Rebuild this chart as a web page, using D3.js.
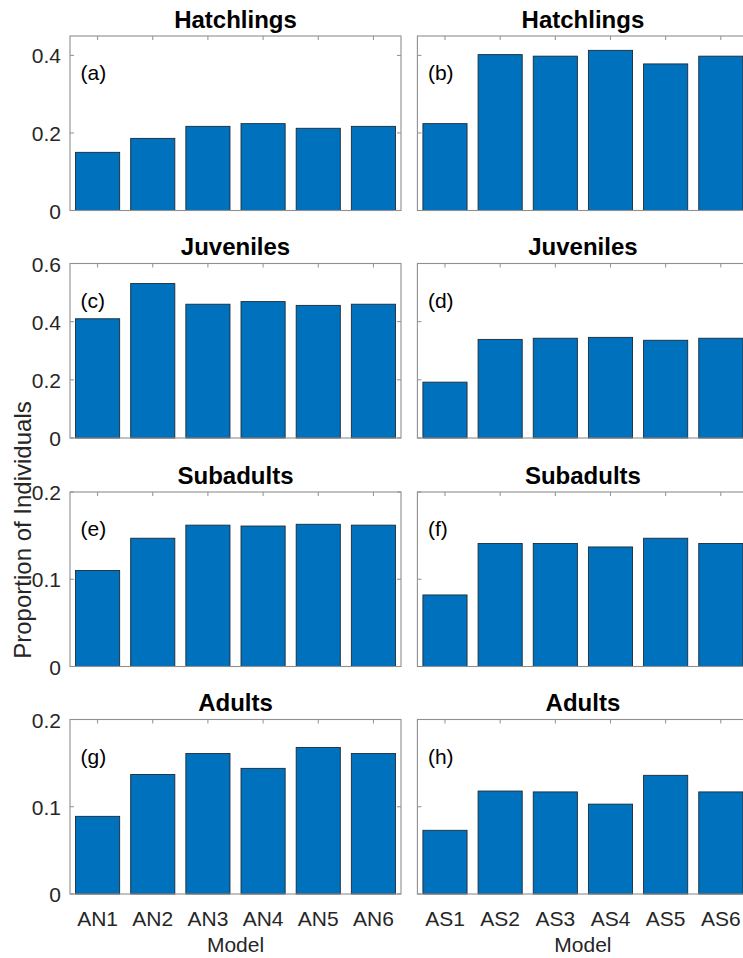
<!DOCTYPE html>
<html>
<head>
<meta charset="utf-8">
<script src="https://cdn.jsdelivr.net/npm/d3@7"></script>
<style>
  html, body { margin: 0; padding: 0; background: #fff; }
  svg { display: block; font-family: "Liberation Sans", Arial, Helvetica, sans-serif; }
</style>
</head>
<body>
<svg id="chart" width="743" height="958"></svg>
<script>
// Model names for the two columns
const modelsAN = ["AN1", "AN2", "AN3", "AN4", "AN5", "AN6"];
const modelsAS = ["AS1", "AS2", "AS3", "AS4", "AS5", "AS6"];

// Stage titles (one per row)
const stages = ["Hatchlings", "Juveniles", "Subadults", "Adults"];

// Proportion of individuals per stage and model
const hatchlingsAN = [0.150, 0.186, 0.217, 0.224, 0.212, 0.217];
const hatchlingsAS = [0.224, 0.402, 0.398, 0.413, 0.378, 0.398];
const juvenilesAN  = [0.410, 0.531, 0.460, 0.469, 0.456, 0.460];
const juvenilesAS  = [0.192, 0.339, 0.343, 0.346, 0.336, 0.343];
const subadultsAN  = [0.110, 0.147, 0.162, 0.161, 0.163, 0.162];
const subadultsAS  = [0.082, 0.141, 0.141, 0.137, 0.147, 0.141];
const adultsAN     = [0.089, 0.137, 0.161, 0.144, 0.168, 0.161];
const adultsAS     = [0.073, 0.118, 0.117, 0.103, 0.136, 0.117];

// y-axis upper limits and tick values per row
const yMax = [0.45, 0.6, 0.2, 0.2];
const yTicksHatch = [0, 0.2, 0.4];
const yTicksJuv   = [0, 0.2, 0.4, 0.6];
const yTicksSub   = [0, 0.1, 0.2];
const yTicksAdult = [0, 0.1, 0.2];

const panelLetters = ["a", "b", "c", "d", "e", "f", "g", "h"];

const rowValues = [
  [hatchlingsAN, hatchlingsAS],
  [juvenilesAN, juvenilesAS],
  [subadultsAN, subadultsAS],
  [adultsAN, adultsAS]
];
const rowTicks = [yTicksHatch, yTicksJuv, yTicksSub, yTicksAdult];

// Layout
const colLeft = [70, 417.4];
const colWidth = 331;
const rowTop = [36, 263.5, 492, 719.5];
const rowHeight = 174.5;

const barColor = "#0072BD";
const axisColor = "#8f8f8f";
const textColor = "#262626";
const tickFont = 21;
const labelFont = 24;

const svg = d3.select("#chart");

const fmt = d => d === 0 ? "0" : d3.format(".1f")(d);

rowValues.forEach((pair, r) => {
  pair.forEach((values, c) => {
    const models = c === 0 ? modelsAN : modelsAS;
    const x0 = colLeft[c], y0 = rowTop[r];
    const x = d3.scaleBand()
      .domain(models)
      .range([x0, x0 + colWidth])
      .paddingInner(0.2)
      .paddingOuter(0.1);
    const y = d3.scaleLinear()
      .domain([0, yMax[r]])
      .range([y0 + rowHeight, y0]);

    const g = svg.append("g");

    // top ticks (mirrored, inward)
    g.selectAll("line.xtop").data(models).join("line")
      .attr("x1", d => x(d) + x.bandwidth() / 2)
      .attr("x2", d => x(d) + x.bandwidth() / 2)
      .attr("y1", y0).attr("y2", y0 + 4)
      .attr("stroke", axisColor).attr("stroke-width", 1);

    // left and right y ticks, inward
    g.selectAll("line.yl").data(rowTicks[r]).join("line")
      .attr("x1", x0).attr("x2", x0 + 4)
      .attr("y1", d => y(d)).attr("y2", d => y(d))
      .attr("stroke", axisColor).attr("stroke-width", 1);
    g.selectAll("line.yr").data(rowTicks[r]).join("line")
      .attr("x1", x0 + colWidth).attr("x2", x0 + colWidth - 4)
      .attr("y1", d => y(d)).attr("y2", d => y(d))
      .attr("stroke", axisColor).attr("stroke-width", 1);

    // bars
    g.selectAll("rect.bar").data(values).join("rect")
      .attr("x", (d, i) => x(models[i]))
      .attr("width", x.bandwidth())
      .attr("y", d => y(d))
      .attr("height", d => y(0) - y(d))
      .attr("fill", barColor)
      .attr("stroke", "#1c2a38")
      .attr("stroke-width", 0.9);

    // axes box
    g.append("rect")
      .attr("x", x0).attr("y", y0)
      .attr("width", colWidth).attr("height", rowHeight)
      .attr("fill", "none")
      .attr("stroke", axisColor)
      .attr("stroke-width", 1.1);

    // y tick labels on the left column
    if (c === 0) {
      const yAxis = d3.axisLeft(y).tickValues(rowTicks[r]).tickFormat(fmt).tickSize(0).tickPadding(9);
      const ya = g.append("g").attr("transform", `translate(${x0},0)`).call(yAxis);
      ya.select(".domain").remove();
      ya.selectAll("text")
        .attr("font-size", tickFont)
        .attr("font-family", "Liberation Sans, Arial, sans-serif")
        .attr("fill", textColor)
        .attr("dy", "0.36em");
    }

    // x tick labels on the bottom row
    if (r === rowValues.length - 1) {
      const xAxis = d3.axisBottom(x).tickSize(0).tickPadding(17);
      const xa = g.append("g").attr("transform", `translate(0,${y0 + rowHeight})`).call(xAxis);
      xa.select(".domain").remove();
      xa.selectAll("text")
        .attr("font-size", tickFont)
        .attr("font-family", "Liberation Sans, Arial, sans-serif")
        .attr("fill", textColor);

      g.append("text")
        .attr("x", x0 + colWidth / 2)
        .attr("y", 952)
        .attr("text-anchor", "middle")
        .attr("font-size", 21)
        .attr("fill", textColor)
        .text("Model");
    }

    // title
    g.append("text")
      .attr("x", x0 + colWidth / 2)
      .attr("y", y0 - 8.5)
      .attr("text-anchor", "middle")
      .attr("font-size", labelFont)
      .attr("font-weight", "bold")
      .attr("fill", "#000")
      .text(stages[r]);

    // panel letter
    g.append("text")
      .attr("x", x0 + 10.5)
      .attr("y", y0 + 44)
      .attr("font-size", tickFont)
      .attr("fill", "#000")
      .text(`(${panelLetters[r * 2 + c]})`);
  });
});

// shared y-axis label
svg.append("text")
  .attr("transform", "translate(31,530) rotate(-90)")
  .attr("text-anchor", "middle")
  .attr("font-size", labelFont)
  .attr("fill", textColor)
  .text("Proportion of Individuals");
</script>
</body>
</html>
